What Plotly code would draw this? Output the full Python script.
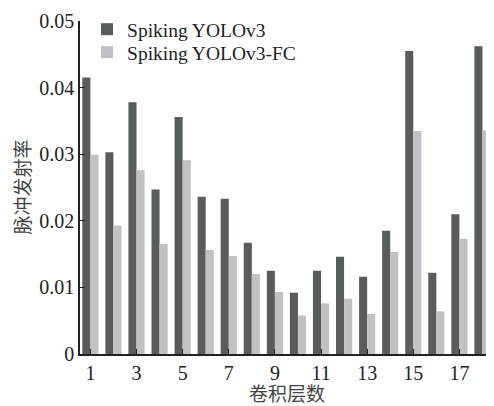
import plotly.graph_objects as go

layers = list(range(1, 19))
yolo = [0.0415, 0.0303, 0.0378, 0.0247, 0.0356, 0.0236, 0.0233, 0.0167, 0.0125,
        0.0092, 0.0125, 0.0146, 0.0116, 0.0185, 0.0455, 0.0122, 0.0210, 0.0462]
yolo_fc = [0.0299, 0.0193, 0.0276, 0.0165, 0.0291, 0.0156, 0.0147, 0.0120, 0.0093,
           0.0058, 0.0076, 0.0083, 0.0060, 0.0153, 0.0335, 0.0064, 0.0173, 0.0336]
xticks = [1, 3, 5, 7, 9, 11, 13, 15, 17]
yticks = [0, 0.01, 0.02, 0.03, 0.04, 0.05]
ytick_text = ["0", "0.01", "0.02", "0.03", "0.04", "0.05"]
x_title = "卷积层数"
y_title = "脉冲发射率"

font_serif = "Liberation Serif, Times New Roman, serif"
font_cjk = "Noto Sans CJK SC"

fig = go.Figure()
fig.add_trace(go.Bar(x=layers, y=yolo, name="Spiking YOLOv3", marker_color="#585c5d",
                     marker_line_width=0, legend="legend"))
fig.add_trace(go.Bar(x=layers, y=yolo_fc, name="Spiking YOLOv3-FC", marker_color="#c0c1c5",
                     marker_line_width=0, legend="legend2"))

legend_common = dict(xanchor="left", yanchor="top", bgcolor="rgba(0,0,0,0)",
                     font=dict(size=19.5, family=font_serif, color="#222"), itemwidth=30)

fig.update_layout(
    width=486, height=398,
    margin=dict(l=72, r=0, t=13, b=52, autoexpand=False),
    plot_bgcolor="white", paper_bgcolor="white",
    barmode="group", bargap=0.3, bargroupgap=0,
    font=dict(family=font_serif, size=20, color="#222"),
    showlegend=True,
    legend=dict(x=0.017, y=1.033, **legend_common),
    legend2=dict(x=0.017, y=0.964, **legend_common),
    xaxis=dict(range=[0.55, 18.5], tickmode="array", tickvals=xticks,
               ticktext=[str(t) for t in xticks],
               showline=True, linecolor="#222", linewidth=1.5,
               ticks="inside", ticklen=5, tickcolor="#222", showgrid=False, zeroline=False,
               automargin=False, tickfont=dict(size=20)),
    yaxis=dict(range=[0, 0.05], tickmode="array", tickvals=yticks, ticktext=ytick_text,
               showline=True, linecolor="#222", linewidth=1.5,
               ticks="inside", ticklen=5, tickcolor="#222", showgrid=False, zeroline=False,
               automargin=False, tickfont=dict(size=20)),
    annotations=[
        dict(text=x_title, xref="paper", yref="paper", x=0.5, y=-0.117,
             xanchor="center", yanchor="middle", showarrow=False, borderpad=0,
             font=dict(family=font_cjk, size=19, color="#444")),
        dict(text=y_title, xref="paper", yref="paper", x=-0.1425, y=0.5,
             xanchor="center", yanchor="middle", showarrow=False, textangle=-90, borderpad=0,
             font=dict(family=font_cjk, size=19, color="#444")),
    ],
)

fig.write_html("out.html")
